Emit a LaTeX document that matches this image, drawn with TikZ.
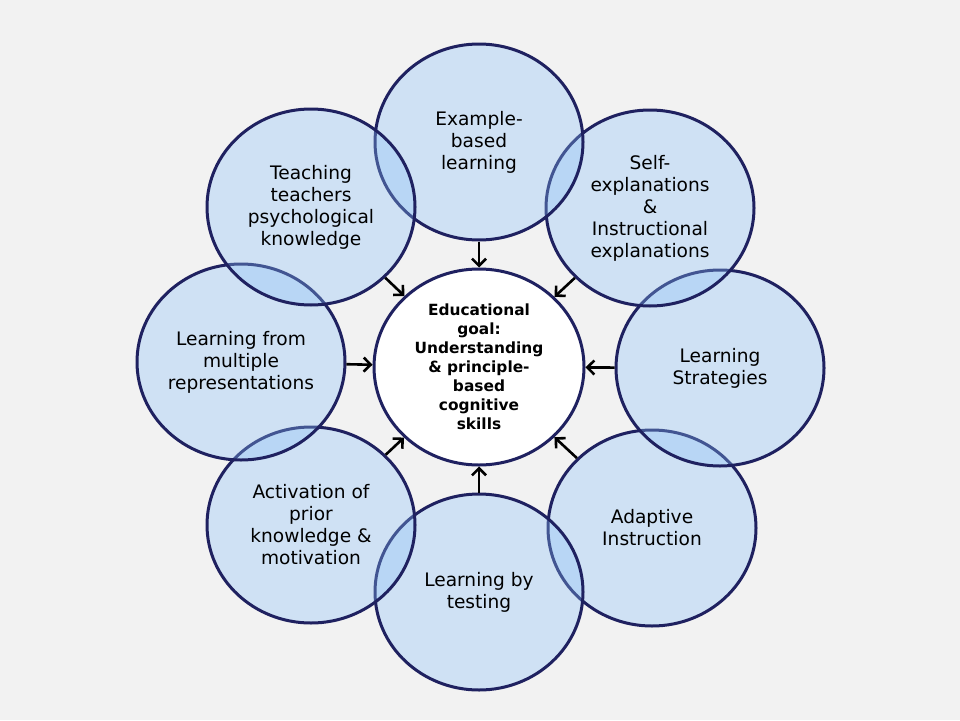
\documentclass[tikz,border=0pt]{standalone}
\usepackage{fontspec}
\setmainfont{DejaVu Sans}
\usetikzlibrary{shapes.geometric,arrows.meta}
\definecolor{bgc}{HTML}{F2F2F2}
\definecolor{navy}{HTML}{1F2160}
\definecolor{bubble}{HTML}{8AC0FA}
\begin{document}
\begin{tikzpicture}[x=1pt,y=-1pt,
  bubblestyle/.style={ellipse, draw=navy, line width=3pt, fill=bubble, fill opacity=0.33,
    text opacity=1, minimum width=208pt, minimum height=196pt, inner sep=0pt,
    align=center, font=\fontsize{18.6}{22}\selectfont, text=black},
  goalstyle/.style={ellipse, draw=navy, line width=3pt, fill=white,
    minimum width=210pt, minimum height=196pt, inner sep=0pt,
    align=center, font=\fontsize{15.4}{19}\selectfont\bfseries, text=black},
  linkarrow/.style={draw=black, line width=2.6pt, -{Straight Barb[length=7pt,width=14pt,line width=2.6pt]}}
]
\useasboundingbox (0,0) rectangle (960,720);
\fill[bgc] (0,0) rectangle (960,720);

\node[goalstyle] (goal) at (479,367) {Educational\\goal:\\Understanding\\\& principle-\\based\\cognitive\\skills};

\node[bubblestyle] (br) at (652,528) {Adaptive\\Instruction};
\node[bubblestyle] (b) at (479,592) {Learning by\\testing};
\node[bubblestyle] (bl) at (311,525) {Activation of\\prior\\knowledge \&\\motivation};
\node[bubblestyle] (l) at (241,362) {Learning from\\multiple\\representations};
\node[bubblestyle] (r) at (720,368) {Learning\\Strategies};
\node[bubblestyle] (tr) at (650,208) {Self-\\explanations\\\&\\Instructional\\explanations};
\node[bubblestyle] (t) at (479,142) {Example-\\based\\learning};
\node[bubblestyle] (tl) at (311,207) {Teaching\\teachers\\psychological\\knowledge};

\foreach \n in {t,tr,r,br,b,bl,l,tl}
  \draw[linkarrow] (\n) -- (goal);
\end{tikzpicture}
\end{document}
